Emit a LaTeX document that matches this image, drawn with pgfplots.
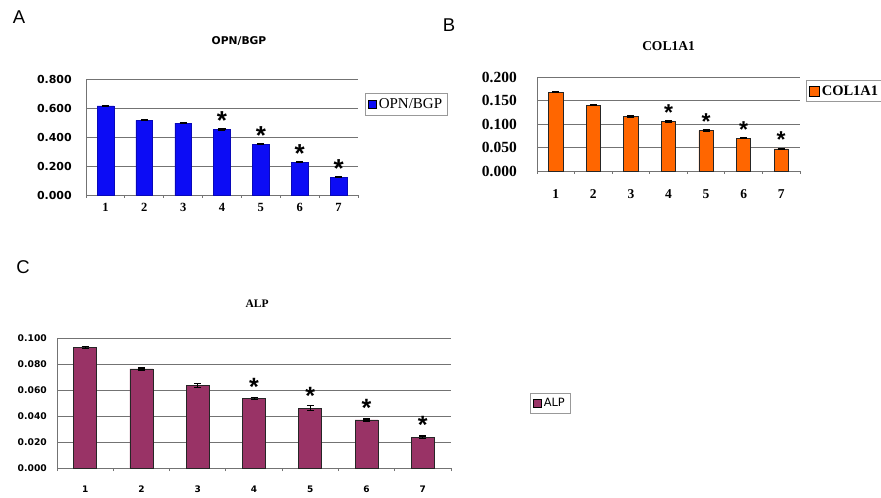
\documentclass[border=0pt]{standalone}
\usepackage{pgfplots}
\pgfplotsset{compat=1.18}
\usepackage{fontspec}
\setmainfont{Liberation Serif}
\newfontfamily\arial{Liberation Sans}
\newfontfamily\tahoma{DejaVu Sans}

\definecolor{barA}{RGB}{12,12,245}
\definecolor{barB}{RGB}{255,102,0}
\definecolor{barC}{RGB}{153,51,102}
\definecolor{gridc}{RGB}{115,115,115}

\pgfplotsset{
 panel/.style={
  scale only axis, anchor=south west,
  xmin=0.5, xmax=7.5, ymin=0,
  axis x line=bottom, axis y line=left,
  axis line style={gridc, -, line width=0.8pt},
  ymajorgrids, grid style={gridc, line width=0.8pt},
  xtick={1,2,3,4,5,6,7}, xticklabels={1,2,3,4,5,6,7},
  minor xtick={0.5,1.5,...,7.5},
  major tick length=0pt,
  minor tick length=3pt,
  xtick align=outside,
  minor tick style={gridc, line width=0.8pt},
  clip=false,
  legend image code/.code={\draw[#1, draw=black, line width=0.6pt] (0pt,-4pt) rectangle (8pt,4pt);},
  error bars/error bar style={black, line width=0.9pt},
  error bars/error mark options={rotate=90, mark size=3.5pt, black, line width=1.4pt},
 },
 star/.style={draw=none, mark=none, forget plot, point meta=y,
  nodes near coords={*}, nodes near coords style={text=black, anchor=center, inner sep=0pt, yshift=#1}},
}

\begin{document}
\begin{tikzpicture}
\useasboundingbox (0pt,0pt) rectangle (881pt,498pt);
\fill[white] (0pt,0pt) rectangle (881pt,498pt);

% panel letters
\node[font={\arial\fontsize{18.5}{18.5}\selectfont}] at (19pt,481pt) {A};
\node[font={\arial\fontsize{18.5}{18.5}\selectfont}] at (449pt,473pt) {B};
\node[font={\arial\fontsize{18.5}{18.5}\selectfont}] at (23pt,231pt) {C};

% ---------------- A
\begin{axis}[panel, at={(86pt,303pt)}, width=272pt, height=116pt,
  ymax=0.8, ytick={0,0.2,0.4,0.6,0.8},
  yticklabels={0.000,0.200,0.400,0.600,0.800},
  yticklabel style={font={\tahoma\bfseries\fontsize{11}{11}\selectfont}, anchor=east, inner sep=0pt, xshift=-14pt},
  xticklabel style={font={\bfseries\fontsize{12.5}{12.5}\selectfont}, anchor=center, inner sep=0pt, yshift=-12pt},
  title={OPN/BGP}, title style={font={\tahoma\bfseries\fontsize{10.7}{10.7}\selectfont}, at={(0.5625,1)}, anchor=center, yshift=32pt},
  legend style={draw=gray!80, fill=white, at={(1,0.784)}, anchor=west, xshift=7pt,
    font={\fontsize{15}{15}\selectfont}, inner sep=3pt, row sep=0pt},
]
\addplot[ybar, bar width=0.43, fill=barA, draw=barA!75!black, line width=0.5pt,
  error bars/.cd, y dir=both, y explicit]
  coordinates {(1,0.615) +- (0,0.003) (2,0.515) +- (0,0.002) (3,0.495) +- (0,0.002)
               (4,0.452) +- (0,0.003) (5,0.350) +- (0,0.002) (6,0.226) +- (0,0.002)
               (7,0.122) +- (0,0.002)};
\addlegendentry{OPN/BGP}
\addplot[star=9pt, nodes near coords style={font={\arial\bfseries\fontsize{26}{26}\selectfont}}]
  coordinates {(4,0.452) (5,0.350) (6,0.226) (7,0.122)};
\end{axis}

% ---------------- B
\begin{axis}[panel, at={(537pt,327pt)}, width=263pt, height=94pt,
  ymax=0.2, ytick={0,0.05,0.1,0.15,0.2},
  yticklabels={0.000,0.050,0.100,0.150,0.200},
  yticklabel style={font={\bfseries\fontsize{15.5}{15.5}\selectfont}, anchor=east, inner sep=0pt, xshift=-20pt},
  xticklabel style={font={\bfseries\fontsize{13.5}{13.5}\selectfont}, anchor=center, inner sep=0pt, yshift=-23pt},
  title={COL1A1}, title style={font={\bfseries\fontsize{13.5}{13.5}\selectfont}, at={(0.5,1)}, anchor=center, yshift=25pt},
  legend style={draw=gray!80, fill=white, at={(1,0.851)}, anchor=west, xshift=6pt,
    font={\bfseries\fontsize{14.5}{14.5}\selectfont}, inner sep=3pt},
  legend image code/.code={\draw[#1, draw=black, line width=0.6pt] (0pt,-5pt) rectangle (10pt,5pt);},
]
\addplot[ybar, bar width=0.38, fill=barB, draw=black!85, line width=0.7pt,
  error bars/.cd, y dir=both, y explicit]
  coordinates {(1,0.168) +- (0,0.0012) (2,0.140) +- (0,0.0008) (3,0.116) +- (0,0.0012)
               (4,0.105) +- (0,0.0012) (5,0.086) +- (0,0.0010) (6,0.070) +- (0,0.0010)
               (7,0.047) +- (0,0.0015)};
\addlegendentry{COL1A1}
\addplot[star=9pt, nodes near coords style={font={\arial\bfseries\fontsize{23}{23}\selectfont}}]
  coordinates {(4,0.105) (5,0.086) (6,0.070) (7,0.047)};
\end{axis}

% ---------------- C
\begin{axis}[panel, at={(57pt,30pt)}, width=394pt, height=130pt,
  ymax=0.1, ytick={0,0.02,0.04,0.06,0.08,0.1},
  yticklabels={0.000,0.020,0.040,0.060,0.080,0.100},
  yticklabel style={font={\tahoma\bfseries\fontsize{9.2}{9.2}\selectfont}, anchor=east, inner sep=0pt, xshift=-10pt},
  xticklabel style={font={\tahoma\bfseries\fontsize{9}{9}\selectfont}, anchor=center, inner sep=0pt, yshift=-21pt},
  title={ALP}, title style={font={\bfseries\fontsize{11.5}{11.5}\selectfont}, at={(0.508,1)}, anchor=center, yshift=28pt},
  legend style={draw=gray!80, fill=white, at={(1,0.5)}, anchor=west, xshift=79pt,
    font={\tahoma\fontsize{11.4}{11.4}\selectfont}, inner sep=3pt},
]
\addplot[ybar, bar width=0.41, fill=barC, draw=black!85, line width=0.7pt,
  error bars/.cd, y dir=both, y explicit]
  coordinates {(1,0.0928) +- (0,0.0008) (2,0.0762) +- (0,0.0007) (3,0.0634) +- (0,0.0015)
               (4,0.0533) +- (0,0.0007) (5,0.0461) +- (0,0.0018) (6,0.0370) +- (0,0.0008)
               (7,0.0236) +- (0,0.0010)};
\addlegendentry{ALP}
\addplot[star=12pt, nodes near coords style={font={\arial\bfseries\fontsize{25}{25}\selectfont}}]
  coordinates {(4,0.0533) (5,0.0461) (6,0.0370) (7,0.0236)};
\end{axis}
\end{tikzpicture}
\end{document}
